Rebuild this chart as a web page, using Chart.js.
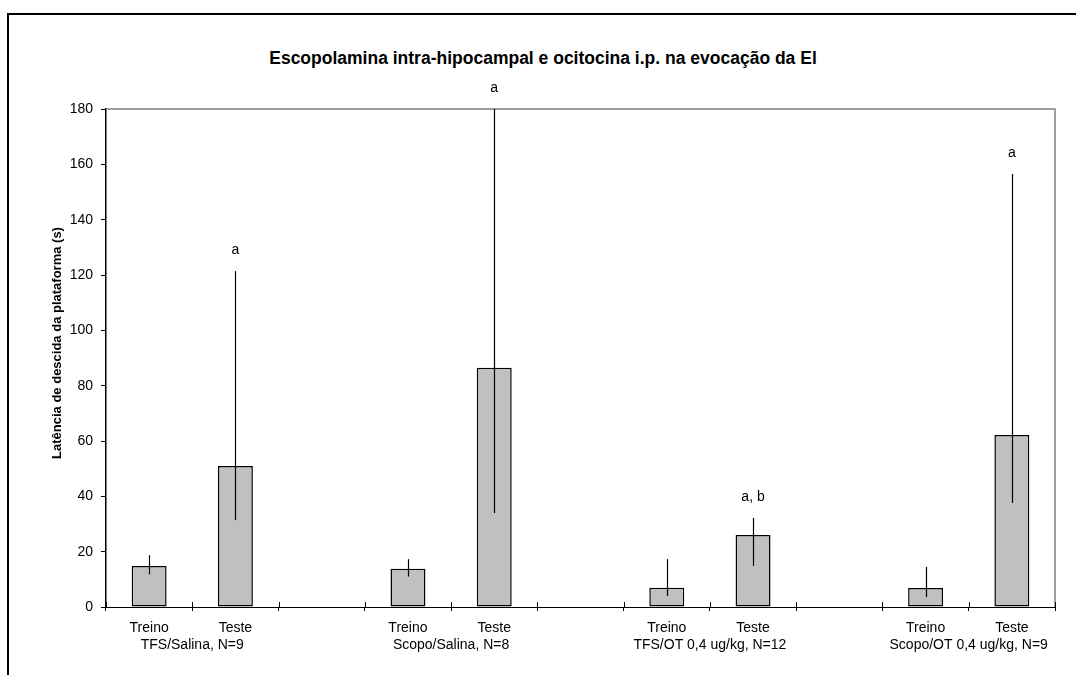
<!DOCTYPE html>
<html>
<head>
<meta charset="utf-8">
<script src="https://cdn.jsdelivr.net/npm/chart.js@4.4.1/dist/chart.umd.min.js"></script>
<style>
  html, body { margin: 0; padding: 0; background: #fff; }
  body { width: 1076px; height: 675px; position: relative; overflow: hidden; font-family: "Liberation Sans", Arial, sans-serif; }
  #frame { position: absolute; left: 7px; top: 13px; width: 1100px; height: 700px; border-left: 2px solid #000; border-top: 2px solid #000; }
  #title { position: absolute; left: 0; width: 1086px; top: 47px; text-align: center; font-weight: bold; font-size: 17.5px; line-height: 22px; color: #000; }
  #chart { position: absolute; left: 0; top: 0; }
</style>
</head>
<body>
<div id="frame"></div>
<div id="title">Escopolamina intra-hipocampal e ocitocina i.p. na evocação da El</div>
<canvas id="chart" width="1076" height="675"></canvas>
<script>
// Sessions per slot (empty slots separate the four groups)
const categories = ['Treino', 'Teste', '', 'Treino', 'Teste', '', 'Treino', 'Teste', '', 'Treino', 'Teste'];
// Group captions, each centred under its Treino/Teste pair
const groups = ['TFS/Salina, N=9', 'Scopo/Salina, N=8', 'TFS/OT 0,4 ug/kg, N=12', 'Scopo/OT 0,4 ug/kg, N=9'];
const groupStart = [0, 3, 6, 9];
// Step-down latency (s)
const latency = [14.8, 51.0, null, 13.8, 86.5, null, 7.0, 26.0, null, 6.9, 62.2];
// Lower and upper ends of the variability bars
const rangeLow = [11.8, 31.4, null, 11.0, 34.0, null, 4.0, 14.8, null, 3.6, 37.6];
const rangeHigh = [18.7, 121.4, null, 17.3, 180, null, 17.3, 32.2, null, 14.5, 156.5];
// Significance letters above the bars
const marks = ['', 'a', '', '', 'a', '', '', 'a, b', '', '', 'a'];
const yTicks = [0, 20, 40, 60, 80, 100, 120, 140, 160, 180];
const yTitle = 'Latência de descida da plataforma (s)';

const FONT = '"Liberation Sans", Arial, sans-serif';

// caption row: one slot per category, caption in the first slot of each pair
const groupRow = categories.map(() => '');
groupStart.forEach((s, k) => { groupRow[s] = groups[k]; });

// Vertical variability bars, significance letters, plot border, axis title and inner tick halves
const decorations = {
  id: 'decorations',
  afterDatasetsDraw(chart) {
    const { ctx, chartArea: a, scales: { x, y } } = chart;
    ctx.save();
    // grey plot border on top and right
    ctx.strokeStyle = '#808080';
    ctx.lineWidth = 1.5;
    ctx.beginPath();
    ctx.moveTo(a.left, a.top);
    ctx.lineTo(a.right, a.top);
    ctx.lineTo(a.right, a.bottom);
    ctx.stroke();

    // range bars, clipped to the plot
    ctx.save();
    ctx.beginPath();
    ctx.rect(a.left, a.top - 1, a.right - a.left, a.bottom - a.top + 1);
    ctx.clip();
    ctx.strokeStyle = '#000';
    ctx.lineWidth = 1.2;
    latency.forEach((v, i) => {
      if (v === null) return;
      const px = Math.round(x.getPixelForValue(i)) + 0.5;
      ctx.beginPath();
      ctx.moveTo(px, y.getPixelForValue(rangeHigh[i]));
      ctx.lineTo(px, y.getPixelForValue(rangeLow[i]));
      ctx.stroke();
    });
    ctx.restore();

    // letters
    ctx.fillStyle = '#000';
    ctx.font = '14px ' + FONT;
    ctx.textAlign = 'center';
    ctx.textBaseline = 'middle';
    marks.forEach((m, i) => {
      if (!m) return;
      const top = y.getPixelForValue(Math.min(rangeHigh[i], y.max));
      ctx.fillText(m, x.getPixelForValue(i), top - 21);
    });

    // y axis title
    ctx.save();
    ctx.translate(57, (a.top + a.bottom) / 2 - 15);
    ctx.rotate(-Math.PI / 2);
    ctx.font = 'bold 13px ' + FONT;
    ctx.fillText(yTitle, 0, 0);
    ctx.restore();

    // inner halves of the category boundary ticks
    const half = (x.getPixelForValue(1) - x.getPixelForValue(0)) / 2;
    ctx.strokeStyle = '#000';
    ctx.lineWidth = 1;
    for (let i = 0; i <= categories.length; i++) {
      const px = Math.round(x.getPixelForValue(i) - half) + 0.5;
      ctx.beginPath();
      ctx.moveTo(px, a.bottom - 5);
      ctx.lineTo(px, a.bottom);
      ctx.stroke();
    }
    ctx.restore();
  }
};

new Chart(document.getElementById('chart'), {
  type: 'bar',
  data: {
    labels: categories,
    datasets: [{
      data: latency,
      backgroundColor: '#c0c0c0',
      borderColor: '#000',
      borderWidth: 1.5,
      borderSkipped: false,
      categoryPercentage: 1,
      barPercentage: 0.405
    }]
  },
  options: {
    responsive: false,
    animation: false,
    events: [],
    layout: { padding: { top: 109, right: 21, left: 0, bottom: 0 } },
    plugins: { legend: { display: false }, tooltip: { enabled: false }, title: { display: false } },
    scales: {
      x: {
        type: 'category',
        offset: true,
        weight: 0,
        grid: { offset: true, drawOnChartArea: false, drawTicks: true, tickLength: 4, color: '#000', lineWidth: 1 },
        border: { color: '#000', width: 1 },
        ticks: { color: '#000', font: { family: FONT, size: 14 }, padding: 9, maxRotation: 0, autoSkip: false },
        afterFit(s) { s.height = 26; }
      },
      x2: {
        type: 'category',
        labels: groupRow,
        position: 'bottom',
        weight: 1,
        offset: true,
        grid: { display: false, drawTicks: false },
        border: { display: false },
        ticks: {
          color: '#000', font: { family: FONT, size: 14 }, padding: 4, maxRotation: 0, autoSkip: false,
          labelOffset: 43.1
        },
        afterFit(s) { s.height = 42; }
      },
      y: {
        min: 0,
        max: 180,
        afterBuildTicks(s) { s.ticks = yTicks.map(v => ({ value: v })); },
        grid: { drawOnChartArea: false, drawTicks: true, tickLength: 5, color: '#000', lineWidth: 1 },
        border: { color: '#000', width: 1.5 },
        ticks: { color: '#000', font: { family: FONT, size: 14 }, padding: 8 },
        title: { display: false },
        afterFit(s) { s.width = 106; }
      }
    }
  },
  plugins: [decorations]
});
</script>
</body>
</html>
